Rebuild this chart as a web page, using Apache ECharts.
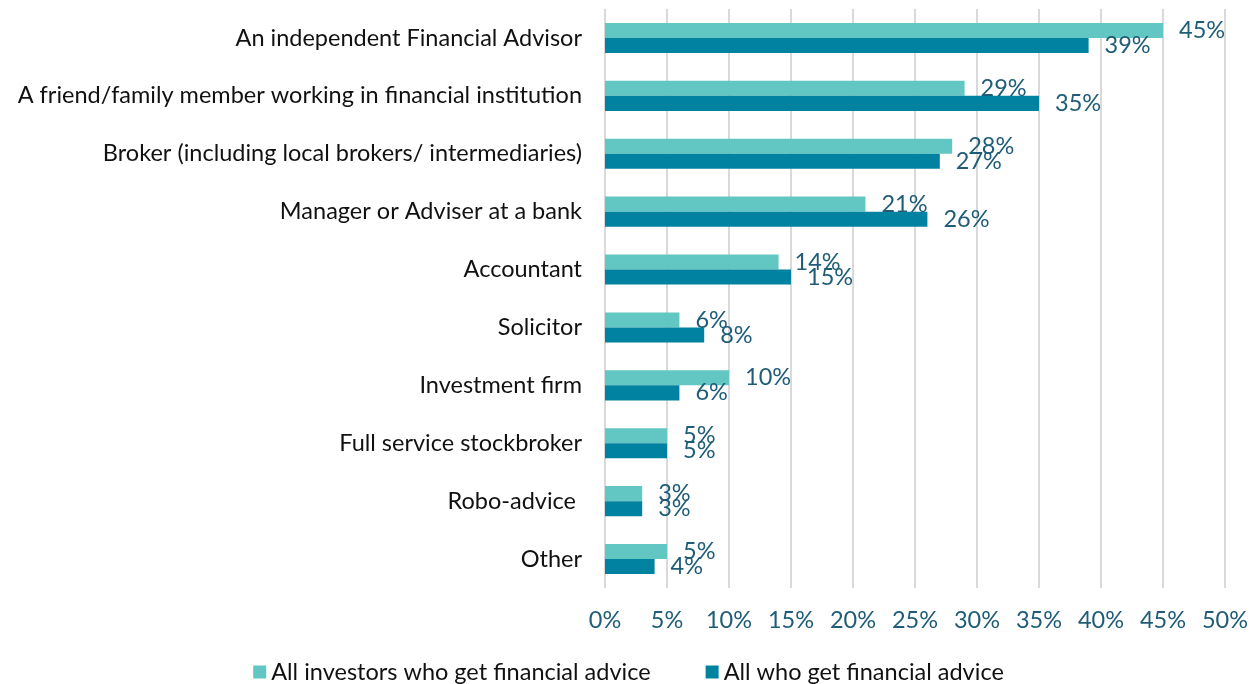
<!DOCTYPE html>
<html lang="en">
	<head>
		<meta charset="UTF-8" />
		<title>Financial advice sources</title>
		<style>
			html, body { margin: 0; padding: 0; background: #fff; }
		</style>
	</head>
	<body>
		<div id="main" style="width: 1257px; height: 684px"></div>
		<script src="https://cdn.jsdelivr.net/npm/echarts@6/dist/echarts.min.js"></script>
		<script>
			// 数据
			var categories = [
				"An independent Financial Advisor",
				"A friend/family member working in financial institution",
				"Broker (including local brokers/ intermediaries)",
				"Manager or Adviser at a bank",
				"Accountant",
				"Solicitor",
				"Investment firm",
				"Full service stockbroker",
				"Robo-advice ",
				"Other",
			];
			var investorsAdvice = [45, 29, 28, 21, 14, 6, 10, 5, 3, 5];
			var allAdvice = [39, 35, 27, 26, 15, 8, 6, 5, 3, 4];
			var seriesNames = ["All investors who get financial advice", "All who get financial advice"];

			var labelColor = "#1F5C78";
			var fontName = "Lato";
			var fs = 23.5;

			var myChart = echarts.init(document.getElementById("main"));

			var barLabel = {
				show: true,
				position: "right",
				distance: 16,
				color: labelColor,
				fontFamily: fontName,
				fontSize: fs,
				formatter: "{c}%",
			};

			var option = {
				textStyle: { fontFamily: fontName },
				grid: { left: 605, right: 32, top: 9, bottom: 96 },
				legend: {
					top: 655,
					itemWidth: 13,
					itemHeight: 13,
					itemGap: 55,
					icon: "rect",
					textStyle: { fontSize: fs, color: "#111", fontFamily: fontName },
					data: seriesNames,
				},
				xAxis: {
					type: "value",
					min: 0,
					max: 50,
					interval: 5,
					axisLine: { show: false },
					axisTick: { show: false },
					splitLine: { lineStyle: { color: "#D9D9D9", width: 2 } },
					axisLabel: {
						formatter: "{value}%",
						color: labelColor,
						fontSize: fs,
						margin: 20,
					},
				},
				yAxis: {
					type: "category",
					inverse: true,
					data: categories,
					axisLine: { show: false },
					axisTick: { show: false },
					axisLabel: { color: "#111", fontSize: fs, margin: 23 },
				},
				series: [
					{
						name: seriesNames[0],
						type: "bar",
						data: investorsAdvice,
						itemStyle: { color: "#62C6C2" },
						barGap: "0%",
						barCategoryGap: "48%",
						label: barLabel,
					},
					{
						name: seriesNames[1],
						type: "bar",
						data: allAdvice,
						itemStyle: { color: "#0082A0" },
						label: barLabel,
					},
				],
			};

			myChart.setOption(option);
		</script>
	</body>
</html>
